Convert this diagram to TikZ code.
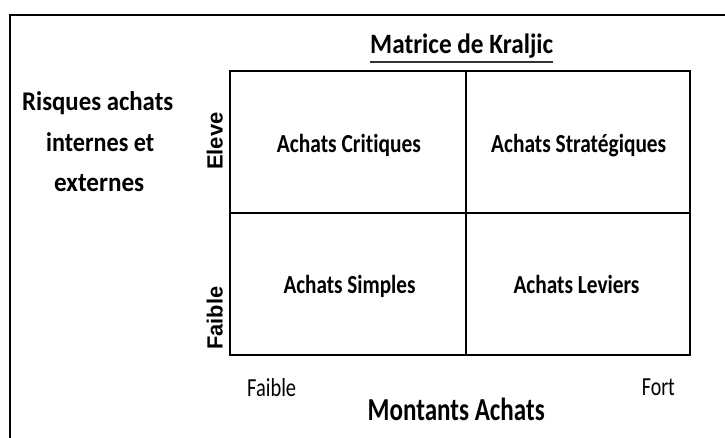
\documentclass[tikz,border=0pt]{standalone}
\usepackage{fontspec}
\usepackage{graphicx}
\setmainfont{Carlito}[Ligatures=NoCommon]
\newfontfamily\arialfont{Liberation Sans}
\newcommand{\fitw}[2]{\resizebox{#1pt}{\height}{#2}}
\begin{document}
\begin{tikzpicture}[x=1pt,y=-1pt,
    lbl/.style={inner sep=0pt,anchor=base west},
    cell/.style={lbl,font=\bfseries\fontsize{26}{26}\selectfont},
    axe/.style={lbl,font=\fontsize{26}{26}\selectfont},
    risque/.style={lbl,font=\bfseries\fontsize{27}{27}\selectfont},
    niveau/.style={lbl,rotate=90,font=\arialfont\bfseries\fontsize{22}{22}\selectfont}]
  \useasboundingbox (0,0) rectangle (725,437);
  \clip (0,0) rectangle (725,437);
  \draw[line width=2.5pt] (10,445) -- (10,15) -- (735,15);
  \coordinate (nw) at (230,71);
  \coordinate (se) at (690,355);
  \coordinate (n) at (466,71);
  \coordinate (s) at (466,355);
  \coordinate (w) at (230,213);
  \coordinate (e) at (690,213);
  \draw[line width=1.2pt] (n) -- (s);
  \draw[line width=1.2pt] (w) -- (e);
  \draw[line width=2.2pt] (nw) rectangle (se);
  \node[lbl,font=\bfseries\fontsize{28}{28}\selectfont] (titre) at (370,53) {\fitw{183}{Matrice de Kraljic}};
  \draw[line width=1.5pt,black!80] ([yshift=-9pt]titre.base west) -- ([yshift=-9pt]titre.base east);
  \node[risque] (risque1) at (22,110) {\fitw{151}{Risques achats}};
  \node[risque] (risque2) at (46,151) {\fitw{108}{internes et}};
  \node[risque] (risque3) at (54,191) {\fitw{90}{externes}};
  \node[niveau] (eleve) at (222.5,170) {Eleve};
  \node[niveau] (faibley) at (222.5,350) {\fitw{63}{Faible}};
  \node[cell] (critiques) at (276.7,152.7) {\fitw{144}{Achats Critiques}};
  \node[cell] (strategiques) at (491,152.7) {\fitw{175}{Achats Stratégiques}};
  \node[cell] (simples) at (283.3,293.3) {\fitw{132}{Achats Simples}};
  \node[cell] (leviers) at (513.3,293.3) {\fitw{126}{Achats Leviers}};
  \node[axe] (faiblex) at (247,396.7) {\fitw{49}{Faible}};
  \node[axe] (fort) at (641.7,395) {\fitw{33}{Fort}};
  \node[lbl,font=\bfseries\fontsize{32}{32}\selectfont] (montants) at (367.5,420) {\fitw{177}{Montants Achats}};
\end{tikzpicture}
\end{document}
